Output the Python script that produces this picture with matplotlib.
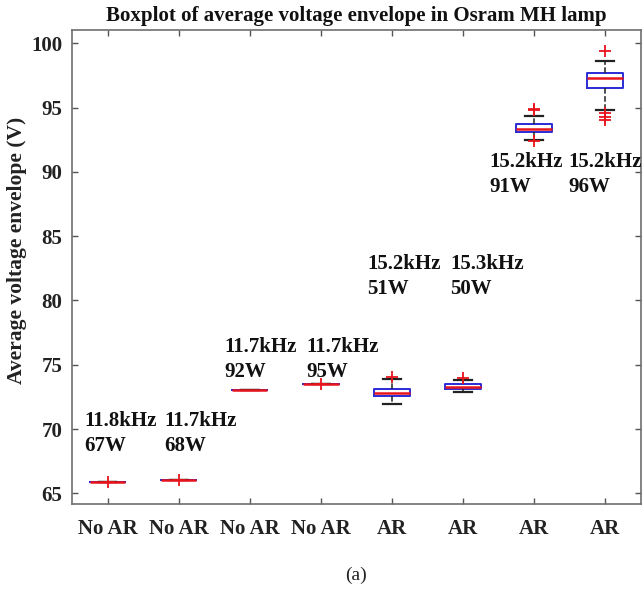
import matplotlib
matplotlib.use('Agg')
import matplotlib.pyplot as plt

# box statistics (V)
labels = ['No AR', 'No AR', 'No AR', 'No AR', 'AR', 'AR', 'AR', 'AR']
freqs = ['11.8kHz', '11.7kHz', '11.7kHz', '11.7kHz', '15.2kHz', '15.3kHz', '15.2kHz', '15.2kHz']
powers = ['67W', '68W', '92W', '95W', '51W', '50W', '91W', '96W']

medians = [65.9, 66.0, 73.0, 73.5, 72.83, 73.3, 93.36, 97.28]
q1 = [65.9, 66.0, 73.0, 73.5, 72.57, 73.12, 93.13, 96.55]
q3 = [65.9, 66.0, 73.0, 73.5, 73.09, 73.48, 93.70, 97.67]
whislo = [65.9, 66.0, 73.0, 73.5, 71.92, 72.88, 92.48, 94.81]
whishi = [65.9, 66.0, 73.0, 73.5, 73.90, 73.80, 94.37, 98.65]
fliers = [
    [65.88],
    [66.02],
    [],
    [73.5],
    [74.02],
    [74.0],
    [92.40, 94.78, 94.90],
    [99.43, 94.56, 94.29, 94.03],
]

# where the two-line annotations start (x) and the first line baseline (y)
text_x = [0.67, 1.80, 2.65, 3.80, 4.65, 5.82, 6.37, 7.48]
text_y = [70.24, 70.24, 76.01, 76.01, 82.42, 82.42, 90.40, 90.40]

plt.rcParams['font.family'] = ['Liberation Serif', 'DejaVu Serif']

stats = []
for i in range(len(labels)):
    stats.append({'med': medians[i], 'q1': q1[i], 'q3': q3[i],
                  'whislo': whislo[i], 'whishi': whishi[i],
                  'fliers': fliers[i], 'label': labels[i]})

fig = plt.figure(figsize=(6.44, 5.9), dpi=100)
ax = fig.add_axes([0.1118, 0.1458, 0.883, 0.804])

ax.bxp(stats, positions=range(1, 9), widths=0.5, showfliers=True,
       boxprops=dict(color='#2b2bd6', linewidth=1.4),
       medianprops=dict(color='#e8141c', linewidth=1.8),
       whiskerprops=dict(color='#222222', linewidth=1.1, linestyle='--'),
       capprops=dict(color='#222222', linewidth=1.6),
       flierprops=dict(marker='+', markeredgecolor='#e8141c', markersize=9,
                       markeredgewidth=1.3, linestyle='none'))

for i in range(len(labels)):
    ax.text(text_x[i], text_y[i], freqs[i], fontsize=15, fontweight='bold',
            ha='left', va='baseline', color='#111111', clip_on=False)
    ax.text(text_x[i], text_y[i] - 1.95, powers[i], fontsize=15, fontweight='bold',
            ha='left', va='baseline', color='#111111', clip_on=False)

ax.set_xlim(0.5, 8.5)
ax.set_ylim(64.17, 101.07)
ax.set_yticks([65, 70, 75, 80, 85, 90, 95, 100])
ax.tick_params(direction='in', length=4, width=1, color='#555555',
               top=True, right=True, labelsize=15, labelcolor='#222222')
ax.tick_params(axis='x', pad=11)
ax.tick_params(axis='y', pad=7)
for lab in ax.get_xticklabels() + ax.get_yticklabels():
    lab.set_fontweight('bold')
for sp in ax.spines.values():
    sp.set_color('#6e6e6e')
    sp.set_linewidth(1.2)

ax.set_title('Boxplot of average voltage envelope in Osram MH lamp',
             fontsize=15, fontweight='bold', pad=6.5, color='#111111')
fig.text(17 / 644, 1 - 250 / 590, 'Average voltage envelope (V)', rotation=90,
         fontsize=15.5, fontweight='bold', ha='center', va='center', color='#222222')
fig.text(356 / 644, 1 - 575 / 590, '(a)', fontsize=14, ha='center', va='center',
         color='#222222')

fig.savefig('out.png', dpi=100)
